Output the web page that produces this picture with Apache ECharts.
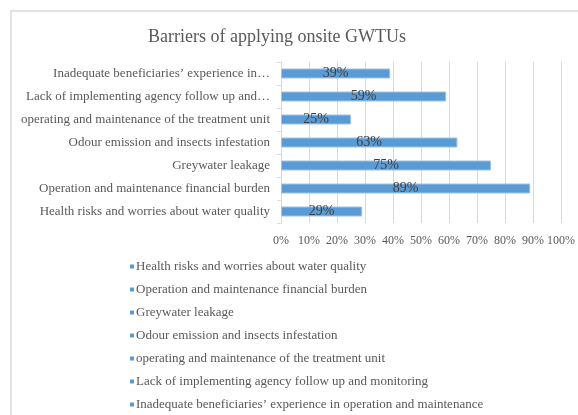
<!DOCTYPE html>
<html>
<head>
<meta charset="utf-8">
<script src="https://cdn.jsdelivr.net/npm/echarts@6/dist/echarts.min.js"></script>
<style>
  html, body { margin: 0; padding: 0; background: #fff; }
  #chart { width: 578px; height: 415px; }
</style>
</head>
<body>
<div id="chart"></div>
<script>
// categories bottom -> top (index 0 is drawn at the bottom of the y axis)
const categories = [
  "Health risks and worries about water quality",
  "Operation and maintenance financial burden",
  "Greywater leakage",
  "Odour emission and insects infestation",
  "operating and maintenance of the treatment unit",
  "Lack of implementing agency follow up and monitoring",
  "Inadequate beneficiaries\u2019 experience in operation and maintenance"
];
// axis labels as shown (long ones cut off)
const axisLabels = [
  "Health risks and worries about water quality",
  "Operation and maintenance financial burden",
  "Greywater leakage",
  "Odour emission and insects infestation",
  "operating and maintenance of the treatment unit",
  "Lack of implementing agency follow up and\u2026",
  "Inadequate beneficiaries\u2019 experience in\u2026"
];
const values = [29, 89, 75, 63, 25, 59, 39];
const xTicks = [0, 10, 20, 30, 40, 50, 60, 70, 80, 90, 100];

const font = "'Liberation Serif', 'DejaVu Serif', serif";
const barColor = "#5b9bd5";

// one series per category so the legend lists every barrier
const series = categories.map((name, i) => ({
  name: name,
  type: "bar",
  stack: "all",
  barWidth: 10,
  data: values.map((v, j) => (j === i ? v : "-")),
  itemStyle: {
    color: barColor,
    borderColor: "#9dc3e6",
    borderWidth: 1,
  },
  label: {
    show: true,
    position: "inside",
    formatter: "{c}%",
    color: "#404040",
    fontFamily: font,
    fontSize: 14,
  },
}));

const myChart = echarts.init(document.getElementById("chart"));
const option = {
  animation: false,
  graphic: [
    {
      type: "rect",
      shape: { x: 11, y: 11, width: 700, height: 500 },
      style: { fill: "none", stroke: "#e3e3e3", lineWidth: 2 },
      silent: true,
    },
  ],
  title: {
    text: "Barriers of applying onsite GWTUs",
    left: 143,
    top: 23,
    textStyle: {
      fontFamily: font,
      fontSize: 18,
      fontWeight: "normal",
      color: "#595959",
    },
  },
  grid: {
    left: 281,
    right: 14,
    top: 62,
    bottom: 192,
  },
  xAxis: {
    type: "value",
    min: xTicks[0],
    max: xTicks[xTicks.length - 1],
    interval: xTicks[1] - xTicks[0],
    axisLine: { show: false },
    axisTick: { show: false },
    splitLine: { lineStyle: { color: "#d9d9d9", width: 1 } },
    axisLabel: {
      formatter: "{value}%",
      color: "#595959",
      fontFamily: font,
      fontSize: 12,
      margin: 12,
    },
  },
  yAxis: {
    type: "category",
    data: axisLabels,
    axisLine: { show: true, lineStyle: { color: "#d9d9d9" } },
    axisTick: { show: true, length: 4, lineStyle: { color: "#d9d9d9" } },
    axisLabel: {
      color: "#595959",
      fontFamily: font,
      fontSize: 13,
      margin: 11,
    },
  },
  legend: {
    orient: "vertical",
    left: 130,
    top: 259,
    padding: 0,
    icon: "rect",
    itemWidth: 4,
    itemHeight: 4,
    itemGap: 8,
    itemStyle: { borderWidth: 0 },
    data: categories,
    textStyle: {
      color: "#595959",
      fontFamily: font,
      fontSize: 13,
      lineHeight: 15,
      padding: [0, 0, 0, -3],
    },
  },
  series: series,
};
myChart.setOption(option);
</script>
</body>
</html>
